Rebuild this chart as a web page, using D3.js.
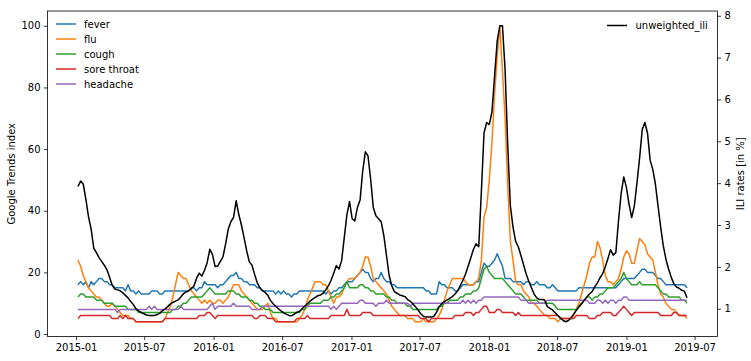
<!DOCTYPE html>
<html><head><meta charset="utf-8">
<script src="https://cdn.jsdelivr.net/npm/d3@7/dist/d3.min.js"></script>
<style>
body{margin:0;background:#fff;}
svg text{font-family:"DejaVu Sans",sans-serif;font-size:10px;fill:#000;}
</style></head>
<body><svg id="c" width="751" height="361"></svg>
<script>
// ---- data (weekly) ----
const startDate = "2015-01-06";
const nWeeks = 232;
const seriesNames = ["fever","flu","cough","sore throat","headache"];
const seriesColors = ["#1f77b4","#ff7f0e","#2ca02c","#d62728","#9467bd"];
const iliName = "unweighted_ili";
const yTicksLeft = [0,20,40,60,80,100];
const yTicksRight = [1,2,3,4,5,6,7,8];

const fever = [16,17,16,17,15,17,16,17,18,18, 17,17,16,16,15,15,15,15,14,16, 14,14,13,14,13,13,13,13,14,14,
 14,13,13,14,14,14,14,14,14,14, 14,14,14,15,15,14,15,15,17,16, 16,16,16,15,16,16,17,18,19,19,
 20,18,18,17,17,16,16,16,15,15, 14,14,14,14,14,13,14,13,14,13, 13,12,13,13,14,14,14,14,14,14,
 14,14,14,14,13,14,13,14,14,15, 15,16,17,17,17,18,19,20,21,20, 20,18,17,18,18,20,18,17,17,16,
 16,15,15,15,15,15,15,15,15,15, 15,15,14,14,13,13,13,17,16,16, 15,15,15,14,14,15,16,16,16,16,
 16,17,17,20,23,22,22,23,24,26, 24,22,18,18,18,17,17,17,17,16, 17,17,16,16,17,16,16,16,15,15,
 16,15,14,14,14,14,14,14,14,14, 15,15,15,15,15,15,15,15,15,15, 15,15,15,15,15,16,17,18,18,18,
 18,18,19,20,21,21,20,20,20,19, 18,18,17,16,16,16,16,16,16,16, 16,15];
const flu = [24,22,19,17,15,14,13,12,12,11, 10,9,9,10,9,8,7,6,6,6, 5,5,4,4,4,4,4,4,4,4,
 4,4,4,5,7,9,12,16,20,19, 18,18,16,14,13,12,11,10,11,10, 11,10,10,11,11,10,11,12,14,16,
 16,16,14,13,12,11,10,9,8,8, 8,9,10,7,5,5,4,4,4,4, 4,4,4,4,5,6,8,11,13,15,
 17,17,17,16,16,14,12,10,12,12, 13,15,17,18,18,18,19,20,22,25, 25,22,18,17,16,15,14,13,11,9,
 8,7,6,6,6,5,5,5,4,4, 4,5,4,4,4,4,5,6,8,11, 14,16,18,18,18,18,18,17,16,16,
 16,17,18,24,38,41,50,62,78,90, 100,85,70,48,30,24,17,16,16,14, 13,12,10,10,9,8,7,6,6,5,
 5,5,4,5,5,5,5,5,6,8, 10,13,16,19,23,25,25,30,28,24, 19,17,17,16,17,18,21,25,27,26,
 23,23,27,31,30,29,26,25,24,20, 16,13,12,10,9,8,8,7,6,6, 6,5];
const cough = [12,13,13,12,12,12,12,11,11,11, 10,10,10,10,9,9,9,9,9,8, 8,8,8,7,7,7,7,7,7,7,
 7,7,7,7,7,7,8,8,9,9, 10,10,11,12,12,12,12,12,13,14, 15,14,13,13,13,13,13,14,14,14,
 13,13,12,12,12,11,11,10,10,9, 9,8,8,8,7,7,7,7,7,7, 7,7,7,7,7,8,8,9,10,10,
 10,10,10,11,11,11,12,12,13,13, 14,15,17,15,15,15,15,16,16,15, 15,14,14,13,13,13,13,12,12,11,
 11,10,10,10,10,9,9,8,8,8, 8,8,8,8,8,8,8,9,9,10, 10,11,11,11,11,12,12,13,13,13,
 14,14,15,18,21,22,20,19,18,18, 18,18,17,16,15,14,13,13,13,12, 11,11,11,11,11,10,10,10,10,10,
 10,9,8,8,8,8,8,8,8,8, 9,10,11,12,12,11,12,12,13,13, 14,15,15,15,16,17,18,20,18,17,
 16,16,16,17,16,16,16,16,16,16, 15,14,13,13,12,12,12,12,12,11, 11,10];
const soreThroat = [5,6,6,6,6,6,6,6,6,6, 6,6,6,5,5,5,6,5,6,5, 5,5,4,4,4,4,4,4,4,4,
 4,4,4,5,5,5,5,5,5,5, 5,5,5,5,5,5,6,6,6,7, 7,6,5,6,6,6,6,6,6,6,
 6,6,6,6,6,6,6,5,5,6, 6,6,5,5,5,4,4,4,4,4, 4,4,4,5,5,5,5,6,5,5,
 5,5,5,5,5,5,6,6,6,6, 6,6,8,6,6,6,6,6,7,7, 7,7,6,6,6,6,6,6,6,6,
 6,6,6,6,6,6,6,6,6,6, 5,5,5,4,5,5,5,5,5,5, 5,5,5,6,6,6,6,7,7,7,
 6,7,7,8,9,9,7,7,7,8, 8,7,7,7,7,7,6,7,6,6, 6,6,6,6,6,6,6,6,6,6,
 6,6,6,5,5,5,5,5,5,6, 6,6,6,6,5,5,5,6,6,7, 7,7,7,6,6,7,8,9,8,7,
 6,7,7,7,7,7,7,7,7,7, 7,6,6,6,6,6,7,7,6,6, 6,6];
const headache = [8,8,8,8,8,8,8,8,8,8, 8,8,8,8,8,7,8,8,8,8, 8,8,8,8,8,8,8,9,8,9,
 8,8,8,8,8,8,8,8,8,9, 8,8,8,8,8,8,8,8,8,8, 9,10,8,9,9,9,9,9,9,10,
 9,9,9,9,9,9,8,8,8,8, 9,9,9,9,9,9,9,9,9,9, 9,9,9,9,9,9,9,9,9,9,
 9,9,9,9,9,9,8,9,8,9, 10,10,10,10,10,10,10,11,11,10, 10,10,10,9,10,10,10,11,10,10,
 10,10,10,10,10,10,9,10,10,10, 10,10,10,10,10,10,10,10,10,10, 10,10,10,10,10,10,11,10,11,10,
 11,10,11,11,12,12,12,12,12,12, 12,12,12,12,12,12,12,12,11,11, 11,10,10,10,10,10,10,10,11,11,
 11,11,11,11,11,11,11,11,11,11, 11,11,11,11,10,10,10,11,11,10, 11,10,11,11,10,11,11,12,12,11,
 11,11,11,11,11,11,11,11,11,11, 11,11,11,11,11,11,11,11,11,11, 11,11];
const unweightedIli = [3.92,4.05,3.98,3.62,3.20,2.90,2.45,2.34,2.22,2.13,
 2.04,1.93,1.75,1.56,1.47,1.45,1.43,1.38,1.32,1.26,
 1.17,1.10,1.00,0.95,0.91,0.88,0.85,0.84,0.84,0.84,
 0.86,0.89,0.95,0.99,1.05,1.11,1.15,1.18,1.21,1.28,
 1.36,1.40,1.43,1.48,1.55,1.73,1.85,1.78,1.92,2.10,
 2.42,2.30,2.01,2.02,2.13,2.24,2.55,2.90,3.08,3.18,
 3.58,3.25,3.00,2.70,2.38,2.12,2.04,1.82,1.62,1.50,
 1.43,1.39,1.32,1.20,1.12,1.06,1.00,0.95,0.90,0.87,
 0.84,0.83,0.87,0.91,0.94,1.00,1.06,1.12,1.18,1.23,
 1.27,1.31,1.33,1.37,1.45,1.55,1.68,1.85,2.03,1.95,
 2.15,2.70,3.25,3.56,3.15,3.10,3.42,3.60,4.30,4.75,
 4.65,4.10,3.42,3.22,3.15,3.08,2.75,2.28,1.80,1.55,
 1.41,1.37,1.33,1.31,1.29,1.22,1.18,1.12,1.05,0.97,
 0.88,0.82,0.80,0.80,0.80,0.82,0.92,1.05,1.12,1.17,
 1.21,1.25,1.29,1.35,1.43,1.55,1.68,1.83,2.02,2.22,
 2.42,2.55,2.48,3.80,5.20,5.45,5.40,5.70,6.55,7.40,
 7.76,7.76,6.70,4.90,3.45,2.95,2.61,2.48,2.27,2.05,
 1.83,1.65,1.50,1.35,1.26,1.22,1.22,1.21,1.05,1.01,
 0.97,0.90,0.84,0.78,0.72,0.69,0.72,0.78,0.87,0.96,
 1.04,1.12,1.20,1.28,1.35,1.41,1.52,1.62,1.74,1.84,
 2.00,2.20,2.41,2.28,2.34,3.10,3.75,4.15,3.90,3.50,
 3.18,3.45,4.00,4.60,5.28,5.45,5.20,4.55,4.33,3.98,
 3.45,2.95,2.50,2.18,1.95,1.75,1.60,1.52,1.49,1.44,
 1.42,1.26];

// ---- layout ----
const W = 751, H = 361;
const m = {left:47.5, right:33.5, top:11, bottom:24.5};
const pw = W - m.left - m.right, ph = H - m.top - m.bottom;

const t0 = d3.timeParse("%Y-%m-%d")(startDate);
const dates = d3.range(nWeeks).map(i => d3.timeDay.offset(t0, 7*i));
const gtSeries = [fever, flu, cough, soreThroat, headache];

function padded(lo, hi){ const p=(hi-lo)*0.05; return [lo-p, hi+p]; }
const tExt = d3.extent(dates);
const tPad = (tExt[1]-tExt[0])*0.05;
const x = d3.scaleTime().domain([new Date(+tExt[0]-tPad), new Date(+tExt[1]+tPad)]).range([m.left, m.left+pw]);
const allGT = gtSeries.flat();
const yL = d3.scaleLinear().domain(padded(d3.min(allGT), d3.max(allGT))).range([m.top+ph, m.top]);
const yR = d3.scaleLinear().domain(padded(d3.min(unweightedIli), d3.max(unweightedIli))).range([m.top+ph, m.top]);

const svg = d3.select("#c");
const plot = svg.append("g");

gtSeries.forEach((s, k) => {
  const line = d3.line().x((d,i)=>x(dates[i])).y(d=>yL(d));
  plot.append("path").attr("d", line(s)).attr("fill","none")
    .attr("stroke", seriesColors[k]).attr("stroke-width",1.5).attr("stroke-linejoin","round");
});
const iliLine = d3.line().x((d,i)=>x(dates[i])).y(d=>yR(d));
plot.append("path").attr("d", iliLine(unweightedIli)).attr("fill","none")
  .attr("stroke","#000").attr("stroke-width",1.5).attr("stroke-linejoin","round");

// axes
function styleAxis(g){
  g.select(".domain").remove();
  g.selectAll("line").attr("stroke","#000").attr("stroke-width",0.8);
  g.selectAll("text").attr("font-family","DejaVu Sans").attr("font-size",10).attr("fill","#000");
}
svg.append("g").attr("transform",`translate(0,${m.top+ph})`)
  .call(d3.axisBottom(x).ticks(d3.timeMonth.every(6)).tickFormat(d3.timeFormat("%Y-%m")).tickSize(3.5).tickPadding(3.5))
  .call(styleAxis);
svg.append("g").attr("transform",`translate(${m.left},0)`)
  .call(d3.axisLeft(yL).tickValues(yTicksLeft).tickSize(3.5).tickPadding(3.5))
  .call(styleAxis);
svg.append("g").attr("transform",`translate(${m.left+pw},0)`)
  .call(d3.axisRight(yR).tickValues(yTicksRight).tickSize(3.5).tickPadding(3.5))
  .call(styleAxis);

// frame
svg.append("rect").attr("x",m.left).attr("y",m.top).attr("width",pw).attr("height",ph)
  .attr("fill","none").attr("stroke","#000").attr("stroke-width",0.8);

// axis labels
svg.append("text").attr("transform",`translate(15,${m.top+ph/2}) rotate(-90)`)
  .attr("text-anchor","middle").text("Google Trends index");
svg.append("text").attr("transform",`translate(744,${m.top+ph/2}) rotate(-90)`)
  .attr("text-anchor","middle").text("ILI rates [in %]");

// legends
const lg = svg.append("g");
seriesNames.forEach((n,k)=>{
  const yy = 24 + k*15;
  lg.append("line").attr("x1",56).attr("x2",76).attr("y1",yy).attr("y2",yy)
    .attr("stroke",seriesColors[k]).attr("stroke-width",1.5);
  lg.append("text").attr("x",84).attr("y",yy).attr("dy","0.35em").text(n);
});
lg.append("line").attr("x1",607).attr("x2",627).attr("y1",25.5).attr("y2",25.5)
  .attr("stroke","#000").attr("stroke-width",1.5);
lg.append("text").attr("x",635.5).attr("y",25.5).attr("dy","0.35em").text(iliName);
</script></body></html>
